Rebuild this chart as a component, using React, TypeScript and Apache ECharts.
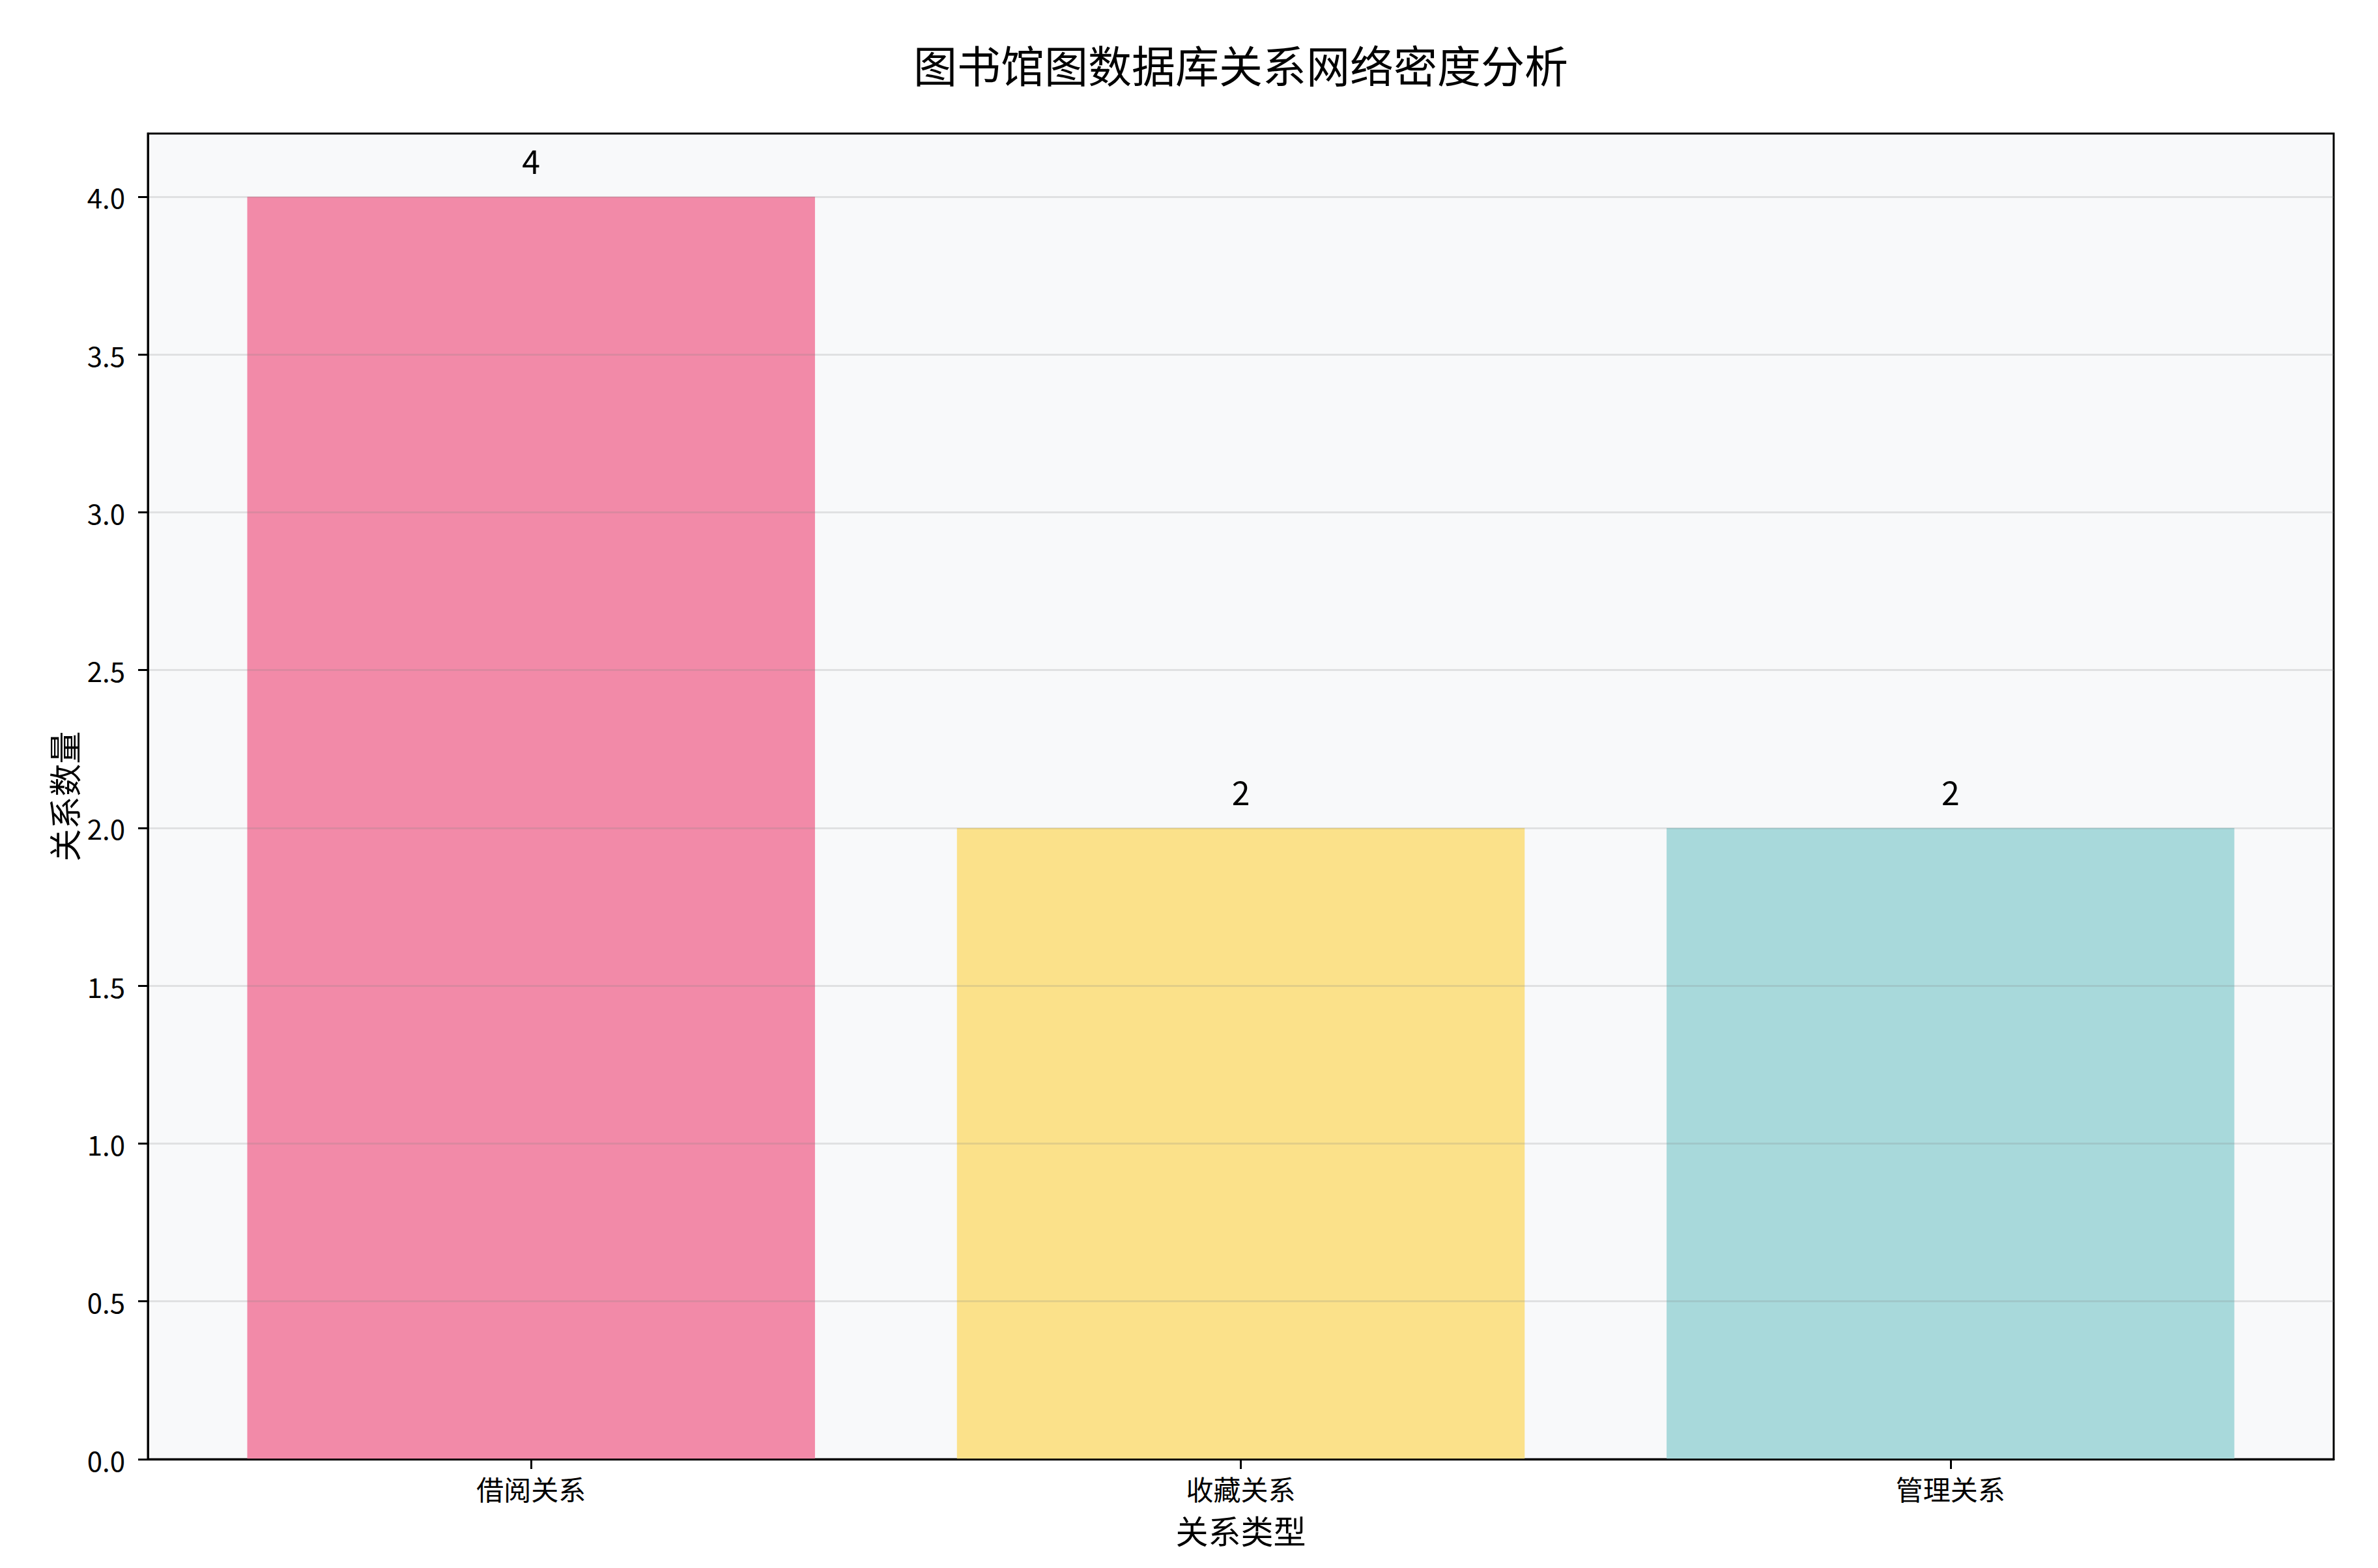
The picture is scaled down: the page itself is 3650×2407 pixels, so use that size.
import React, { useEffect, useRef } from 'react';
import * as echarts from 'echarts';

// 数据
const categories = ['借阅关系', '收藏关系', '管理关系'];
const counts = [4, 2, 2];
const barColors = ['#F28AA8', '#FBE18A', '#A8D9DB'];
const yTicks = [0, 0.5, 1, 1.5, 2, 2.5, 3, 3.5, 4];

const W = 3650;
const H = 2407;
const GRID_LEFT = 227;
const GRID_TOP = 205;
const GRID_W = 3355;
const GRID_H = 2035;
const X_MIN = -0.54;
const X_MAX = 2.54;
const FONT = "'Noto Sans CJK SC', 'Noto Sans', sans-serif";

const App: React.FC = () => {
  const chartRef = useRef<HTMLDivElement>(null);

  useEffect(() => {
    document.body.style.margin = '0';
    if (!chartRef.current) return;
    const chart = echarts.init(chartRef.current, undefined, { renderer: 'svg' });

    const barWidth = (0.8 * GRID_W) / (X_MAX - X_MIN);

    const option = {
      animation: false,
      textStyle: { fontFamily: FONT },
      graphic: [
        {
          type: 'text',
          x: GRID_LEFT + GRID_W / 2,
          y: 97,
          style: {
            text: '图书馆图数据库关系网络密度分析',
            fontSize: 67,
            fontFamily: FONT,
            fill: '#000',
            textAlign: 'center',
            textVerticalAlign: 'middle',
          },
        },
      ],
      grid: {
        left: GRID_LEFT,
        top: GRID_TOP,
        width: GRID_W,
        height: GRID_H,
        show: true,
        backgroundColor: '#F8F9FA',
        borderColor: '#000',
        borderWidth: 3,
      },
      xAxis: {
        type: 'value',
        min: X_MIN,
        max: X_MAX,
        z: 3,
        name: '关系类型',
        nameLocation: 'middle',
        nameGap: 83,
        nameTextStyle: { fontSize: 50, color: '#000', fontFamily: FONT },
        axisLine: { show: true, onZero: false, lineStyle: { color: '#000', width: 3 } },
        axisTick: {
          show: true,
          length: 15,
          lineStyle: { color: '#000', width: 3 },
          customValues: categories.map((_, i) => i),
        },
        axisLabel: {
          fontSize: 42,
          color: '#000',
          margin: 23,
          fontFamily: FONT,
          customValues: categories.map((_, i) => i),
          formatter: (v: number) => categories[Math.round(v)] ?? '',
        },
        splitLine: { show: false },
      },
      yAxis: {
        type: 'value',
        min: 0,
        max: 4.2,
        z: 3,
        name: '关系数量',
        nameLocation: 'middle',
        nameRotate: 90,
        nameGap: 105,
        nameTextStyle: { fontSize: 50, color: '#000', fontFamily: FONT },
        axisLine: { show: true, onZero: false, lineStyle: { color: '#000', width: 3 } },
        axisTick: {
          show: true,
          length: 15,
          lineStyle: { color: '#000', width: 3 },
          customValues: yTicks,
        },
        axisLabel: {
          fontSize: 42,
          color: '#000',
          margin: 35,
          fontFamily: FONT,
          customValues: yTicks,
          formatter: (v: number) => v.toFixed(1),
        },
        interval: 0.5,
        splitLine: { show: true, lineStyle: { color: 'rgba(128,128,128,0.2)', width: 3 } },
      },
      series: [
        {
          type: 'bar',
          barWidth: barWidth,
          data: counts.map((c, i) => ({
            value: [i, c],
            itemStyle: { color: barColors[i] },
          })),
          label: {
            show: true,
            position: 'top',
            distance: 32,
            fontSize: 50,
            color: '#000',
            fontFamily: FONT,
            formatter: (p: any) => String(p.value[1]),
          },
        },
      ],
    };

    chart.setOption(option);
    return () => {
      chart.dispose();
    };
  }, []);

  return <div ref={chartRef} style={{ width: W, height: H }} />;
};

export default App;
